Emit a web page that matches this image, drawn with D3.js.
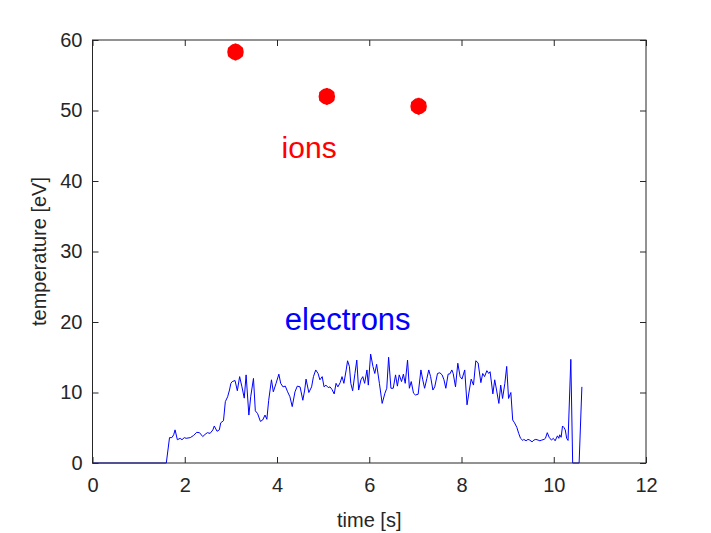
<!DOCTYPE html>
<html lang="en">
<head>
  <meta charset="UTF-8">
  <title>temperature vs time</title>
  <script src="https://d3js.org/d3.v7.min.js"></script>
  <style>
    body { margin: 0; background: #fff; }
    text { font-family: "Liberation Sans", Arial, sans-serif; }
  </style>
</head>
<body>
  <svg id="svg" width="711" height="533"></svg>
  <script>
    // ion temperature points
    var ionTime = [3.1, 5.08, 7.07]
    var ionTemp = [58.3, 52.0, 50.6]

    // electron temperature trace
    var elecTime = [0, 1.60, 1.67, 1.72, 1.76, 1.79, 1.84, 1.90, 1.94, 1.99, 2.03, 2.12, 2.19, 2.26, 2.32, 2.39, 2.44, 2.49, 2.55, 2.61, 2.64, 2.70, 2.75, 2.78, 2.84, 2.88, 2.93, 2.97, 3.00, 3.03, 3.09, 3.14, 3.19, 3.24, 3.29, 3.33, 3.39, 3.43, 3.49, 3.53, 3.58, 3.64, 3.69, 3.74, 3.78, 3.82, 3.88, 3.92, 3.98, 4.04, 4.08, 4.13, 4.18, 4.23, 4.28, 4.33, 4.39, 4.44, 4.50, 4.56, 4.60, 4.63, 4.69, 4.75, 4.79, 4.84, 4.89, 4.93, 4.98, 5.02, 5.06, 5.11, 5.15, 5.19, 5.24, 5.28, 5.32, 5.37, 5.41, 5.45, 5.50, 5.53, 5.57, 5.60, 5.64, 5.69, 5.73, 5.77, 5.82, 5.86, 5.90, 5.95, 5.98, 6.03, 6.08, 6.12, 6.16, 6.22, 6.28, 6.34, 6.38, 6.42, 6.47, 6.52, 6.57, 6.61, 6.65, 6.70, 6.74, 6.78, 6.83, 6.87, 6.91, 6.96, 7.00, 7.06, 7.12, 7.16, 7.20, 7.25, 7.29, 7.33, 7.38, 7.42, 7.48, 7.53, 7.58, 7.62, 7.66, 7.71, 7.75, 7.79, 7.82, 7.87, 7.92, 7.97, 8.01, 8.07, 8.12, 8.17, 8.21, 8.26, 8.31, 8.36, 8.42, 8.46, 8.50, 8.55, 8.59, 8.62, 8.68, 8.72, 8.76, 8.81, 8.85, 8.89, 8.94, 8.98, 9.02, 9.07, 9.11, 9.15, 9.20, 9.24, 9.28, 9.33, 9.35, 9.40, 9.44, 9.48, 9.53, 9.57, 9.61, 9.66, 9.70, 9.74, 9.79, 9.82, 9.86, 9.90, 9.95, 9.99, 10.03, 10.08, 10.11, 10.13, 10.16, 10.19, 10.22, 10.25, 10.28, 10.31, 10.37, 10.41, 10.55, 10.61]
    var elecTemp = [0, 0, 3.6, 3.6, 4.0, 4.7, 3.3, 3.5, 3.3, 3.6, 3.5, 3.6, 3.9, 4.35, 4.3, 3.75, 4.05, 4.3, 4.2, 4.7, 5.25, 4.5, 4.7, 5.7, 6.0, 8.7, 9.4, 10.35, 11.3, 11.55, 11.7, 10.25, 12.25, 10.8, 9.2, 12.5, 6.8, 9.4, 12.0, 7.4, 7.0, 5.9, 6.1, 6.8, 6.2, 8.9, 11.8, 10.1, 11.3, 12.6, 11.3, 10.8, 10.9, 10.1, 9.4, 8.0, 10.1, 10.9, 10.8, 8.9, 10.35, 11.9, 10.0, 10.8, 12.25, 13.2, 12.7, 11.8, 12.25, 10.8, 11.05, 10.7, 10.8, 10.45, 9.8, 11.3, 10.8, 11.4, 12.25, 11.3, 13.2, 14.5, 13.7, 11.3, 10.25, 12.7, 14.6, 10.35, 11.8, 12.25, 11.3, 13.2, 11.05, 15.45, 13.7, 12.7, 14.0, 11.3, 8.45, 9.9, 10.6, 15.0, 10.6, 10.6, 12.5, 10.9, 12.5, 11.55, 12.6, 11.3, 14.6, 10.6, 11.55, 9.9, 9.65, 9.75, 13.2, 11.8, 10.6, 12.0, 13.2, 12.25, 10.35, 10.8, 12.7, 12.8, 12.5, 11.8, 10.6, 12.6, 12.65, 13.2, 12.7, 10.8, 14.15, 12.25, 11.9, 13.2, 8.25, 10.35, 11.9, 11.05, 14.5, 14.2, 11.4, 12.7, 12.25, 13.1, 12.7, 12.95, 9.8, 11.8, 10.35, 8.45, 11.05, 9.15, 11.3, 13.7, 9.15, 10.0, 6.1, 5.7, 5.05, 4.2, 3.5, 3.2, 3.35, 3.15, 3.35, 3.25, 3.0, 3.25, 3.35, 3.25, 3.15, 3.25, 3.35, 3.5, 4.3, 3.65, 3.25, 3.5, 3.15, 3.85, 3.5, 4.0, 3.65, 5.25, 5.05, 4.7, 3.5, 3.2, 14.7, 0, 0, 10.8]

    var xTicks = [0, 2, 4, 6, 8, 10, 12]
    var yTicks = [0, 10, 20, 30, 40, 50, 60]

    var axisColor = '#262626'
    var plotLeft = 92.5, plotRight = 646, plotTop = 40, plotBottom = 463

    var x = d3.scaleLinear().domain([0, 12]).range([plotLeft, plotRight])
    var y = d3.scaleLinear().domain([0, 60]).range([plotBottom, plotTop])

    var svg = d3.select('svg')

    // electron line
    var line = d3.line()
      .x((d, i) => x(elecTime[i]))
      .y(d => y(d))
    svg.append('path')
      .datum(elecTemp)
      .attr('d', line)
      .attr('fill', 'none')
      .attr('stroke', '#0000ff')
      .attr('stroke-width', 1)

    // ion markers: filled dot with an asterisk over it
    var ions = svg.selectAll('g.ion')
      .data(ionTemp)
      .enter()
      .append('g')
      .attr('class', 'ion')
      .attr('transform', (d, i) => 'translate(' + x(ionTime[i]) + ',' + y(d) + ')')
    ions.append('circle')
      .attr('r', 7.5)
      .attr('fill', '#ff0000')
      .attr('stroke', '#ff0000')
      .attr('stroke-width', 1.5)
    ions.append('path')
      .attr('d', d3.symbol(d3.symbolAsterisk, 200))
      .attr('stroke', '#ff0000')
      .attr('stroke-width', 2)

    // axes
    function styleAxis(g) {
      g.select('.domain').remove()
      g.selectAll('.tick line').attr('stroke', axisColor)
      g.selectAll('.tick text').attr('fill', axisColor).style('font-size', '20px')
    }
    svg.append('g')
      .attr('transform', 'translate(0,' + plotBottom + ')')
      .call(d3.axisBottom(x).tickValues(xTicks).tickSizeInner(-6).tickSizeOuter(0).tickPadding(15))
      .call(styleAxis)
    svg.append('g')
      .attr('transform', 'translate(' + plotLeft + ',0)')
      .call(d3.axisLeft(y).tickValues(yTicks).tickSizeInner(-6).tickSizeOuter(0).tickPadding(10))
      .call(styleAxis)
    svg.append('g')
      .attr('transform', 'translate(0,' + plotTop + ')')
      .call(d3.axisTop(x).tickValues(xTicks).tickSizeInner(-6).tickSizeOuter(0).tickFormat(''))
      .call(styleAxis)
    svg.append('g')
      .attr('transform', 'translate(' + plotRight + ',0)')
      .call(d3.axisRight(y).tickValues(yTicks).tickSizeInner(-6).tickSizeOuter(0).tickFormat(''))
      .call(styleAxis)

    svg.append('rect')
      .attr('x', plotLeft).attr('y', plotTop)
      .attr('width', plotRight - plotLeft).attr('height', plotBottom - plotTop)
      .attr('fill', 'none')
      .attr('stroke', axisColor)
      .attr('stroke-width', 1)

    // axis labels
    svg.append('text')
      .attr('x', (plotLeft + plotRight) / 2)
      .attr('y', 527)
      .attr('text-anchor', 'middle')
      .attr('fill', axisColor)
      .style('font-size', '20px')
      .text('time [s]')
    svg.append('text')
      .attr('transform', 'translate(46,' + (plotTop + plotBottom) / 2 + ') rotate(-90)')
      .attr('text-anchor', 'middle')
      .attr('fill', axisColor)
      .style('font-size', '20px')
      .text('temperature [eV]')

    // annotations
    svg.append('text')
      .attr('x', x(4.1)).attr('y', y(43.3))
      .attr('fill', '#ff0000')
      .style('font-size', '30px')
      .text('ions')
    svg.append('text')
      .attr('x', x(4.17)).attr('y', y(18.8))
      .attr('fill', '#0000ff')
      .style('font-size', '31px')
      .text('electrons')
  </script>
</body>
</html>
